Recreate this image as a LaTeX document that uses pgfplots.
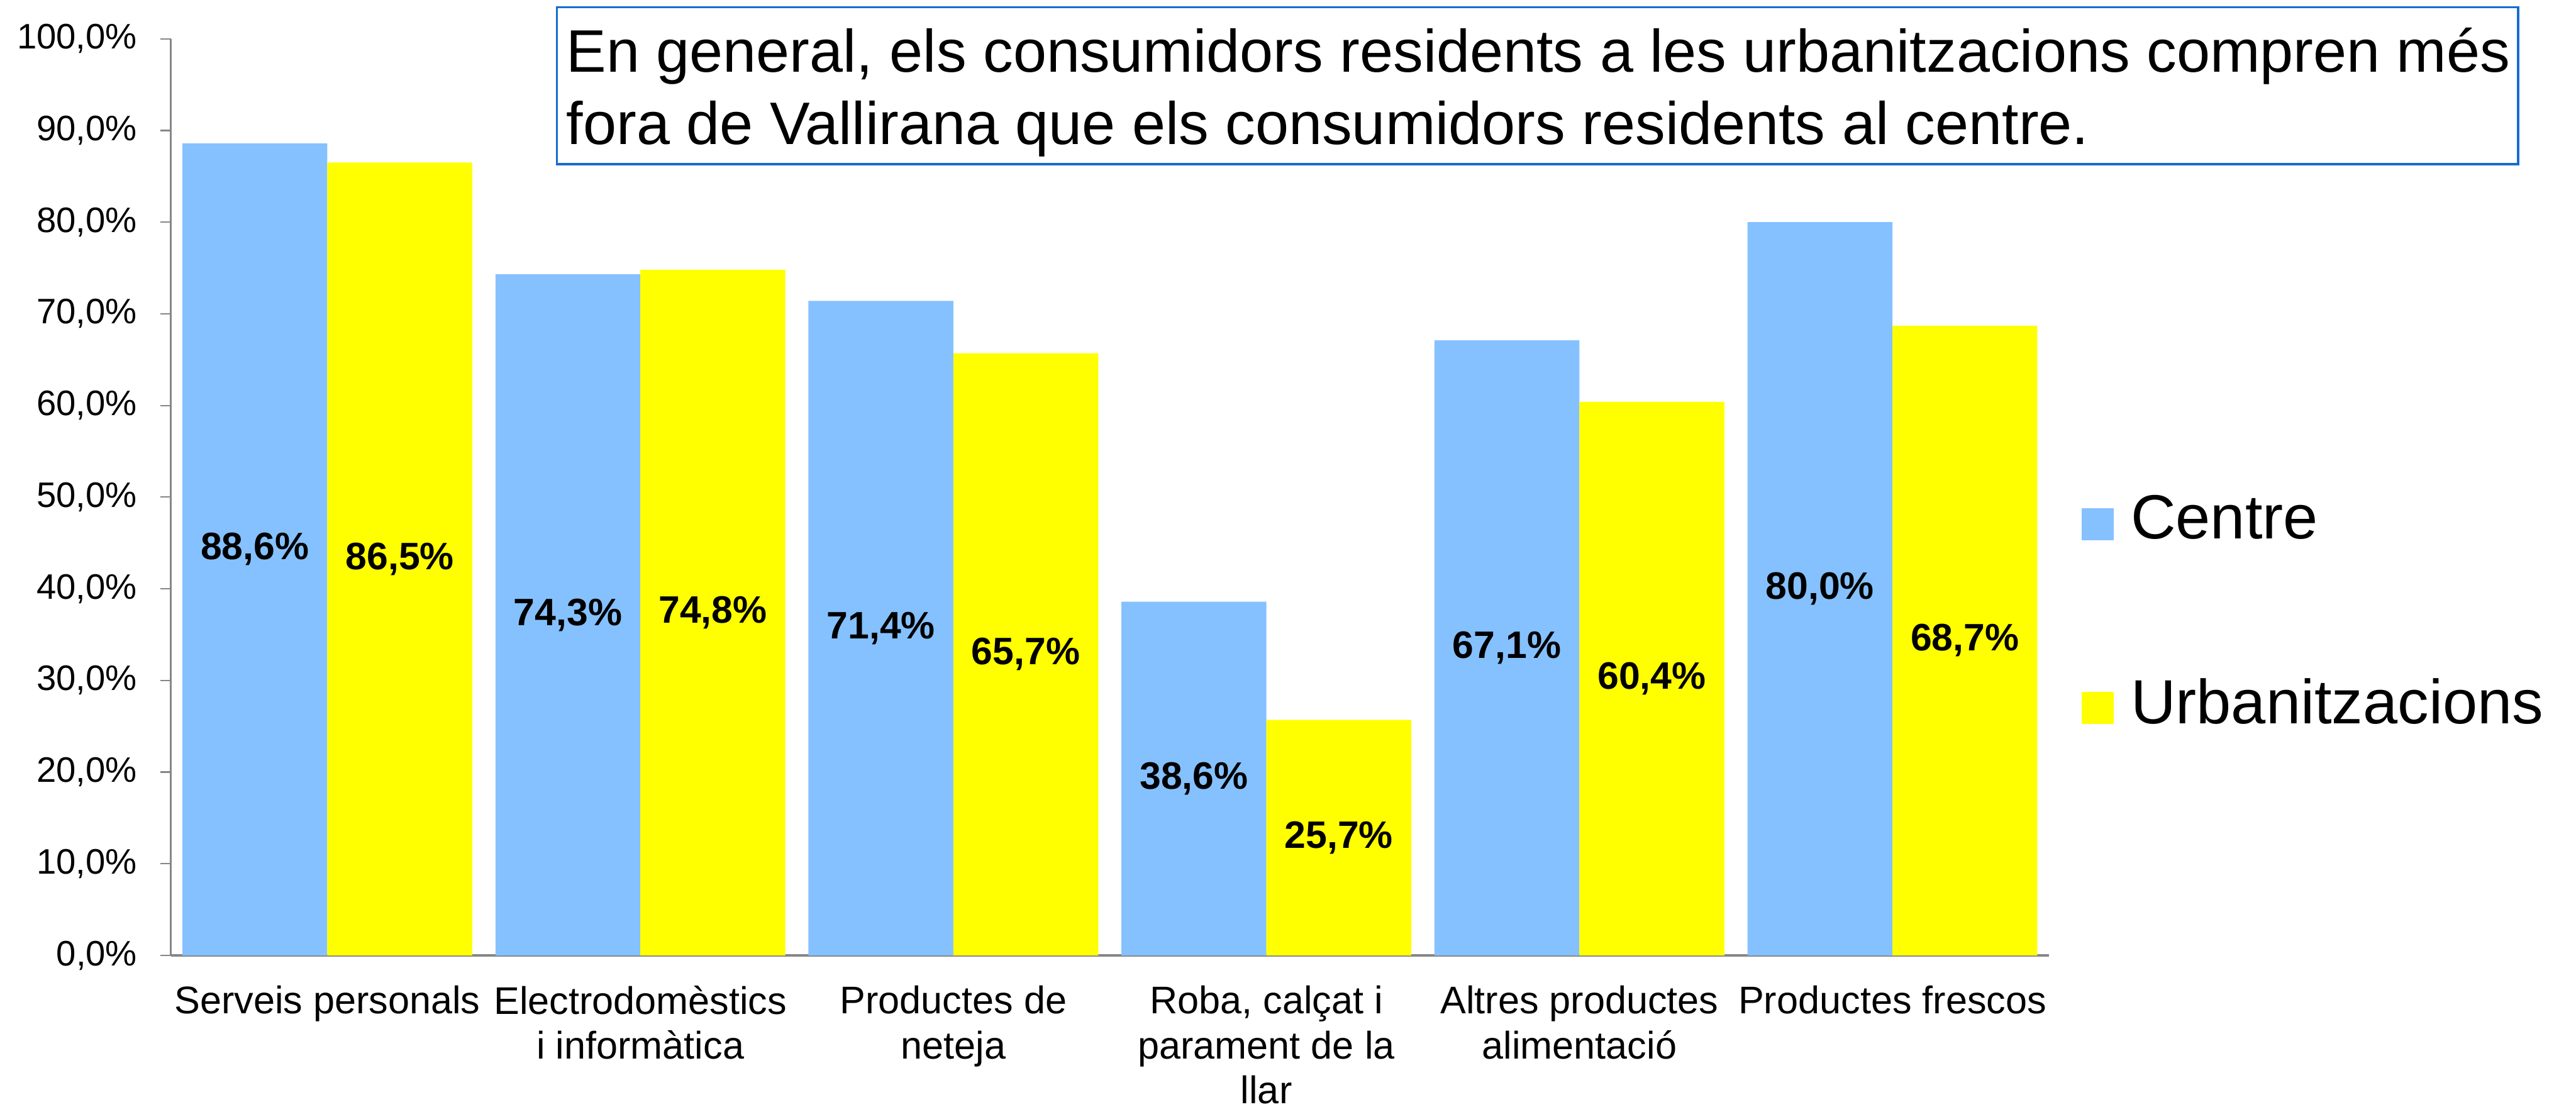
\documentclass[border=0pt]{standalone}
\usepackage{pgfplots}
\pgfplotsset{compat=1.18}
\usepackage{fontspec}
\setmainfont{Liberation Sans}
\definecolor{cblue}{RGB}{133,193,255}
\definecolor{cyellow}{RGB}{255,255,0}
\definecolor{boxblue}{RGB}{20,110,205}
\definecolor{axgray}{RGB}{134,134,134}
\newcommand\fs[2]{\fontsize{#1}{#2}\selectfont}
\begin{document}
\begin{tikzpicture}
\useasboundingbox (0,0) rectangle (916.8pt,-393.8pt);
\begin{axis}[
  at={(60.8pt,-340pt)}, anchor=south west,
  scale only axis, width=668.4pt, height=326.2pt,
  xmin=-0.5, xmax=5.5, ymin=0, ymax=100,
  axis lines*=left,
  axis line style={axgray, line width=0.7pt},
  tick style={axgray, line width=0.5pt},
  tick align=outside,
  ytick={0,10,...,100},
  major tick length=3.8pt,
  xtick={0,...,5},
  x tick style={draw=none},
  minor xtick={-0.5,0.5,...,5.5},
  minor x tick style={axgray, line width=0.5pt},
  minor tick length=4.6pt,
  xticklabels={Serveis personals, Electrodomèstics\\i informàtica, Productes de\\neteja, {Roba, calçat i\\parament de la\\llar}, Altres productes\\alimentació, Productes frescos},
  xticklabel style={font=\fs{13.7}{16}, align=center, anchor=north, inner sep=0pt, yshift=-6.8pt},
  /pgf/number format/assume math mode=true,
  yticklabel={\pgfmathprintnumber[fixed,fixed zerofill,precision=1,use comma]{\tick}\%},
  yticklabel style={font=\fs{12.6}{14}, anchor=east, inner sep=0pt, xshift=-8pt},
  ybar=0pt, bar width=0.463,
  visualization depends on=y \as \rawy,
  nodes near coords={\pgfmathprintnumber[fixed,fixed zerofill,precision=1,use comma]{\pgfplotspointmeta}\%},
  nodes near coords style={font=\bfseries\fs{13.6}{16}, anchor=center, inner sep=0pt, text=black,
     shift={(axis direction cs:0,-\rawy/2)}},
  legend style={at={(1.0125,0.5086)}, anchor=north west, draw=none, fill=none,
     font=\fs{22.2}{26}, row sep=48.2pt, column sep=6pt, nodes={inner sep=0pt}},
  legend cell align=left,
]
\addplot[fill=cblue, draw=none, bar shift=-0.2315,
  legend image code/.code={\fill[cblue] (0pt,-7.4pt) rectangle (11.6pt,4.0pt);}]
  coordinates {(0,88.6) (1,74.3) (2,71.4) (3,38.6) (4,67.1) (5,80.0)};
\addlegendentry{Centre}
\addplot[fill=cyellow, draw=none, bar shift=0.2315,
  legend image code/.code={\fill[cyellow] (0pt,-7.4pt) rectangle (11.6pt,4.0pt);}]
  coordinates {(0,86.5) (1,74.8) (2,65.7) (3,25.7) (4,60.4) (5,68.7)};
\addlegendentry{Urbanitzacions}
\end{axis}
\draw[boxblue, line width=0.8pt] (198.2pt,-2.6pt) rectangle (896.2pt,-58.4pt);
\node[anchor=base west, inner sep=0pt, font=\fs{21.35}{25}] at (201.4pt,-25.6pt) {En general, els consumidors residents a les urbanitzacions compren més};
\node[anchor=base west, inner sep=0pt, font=\fs{21.35}{25}] at (201.4pt,-51.4pt) {fora de Vallirana que els consumidors residents al centre.};
\end{tikzpicture}
\end{document}
